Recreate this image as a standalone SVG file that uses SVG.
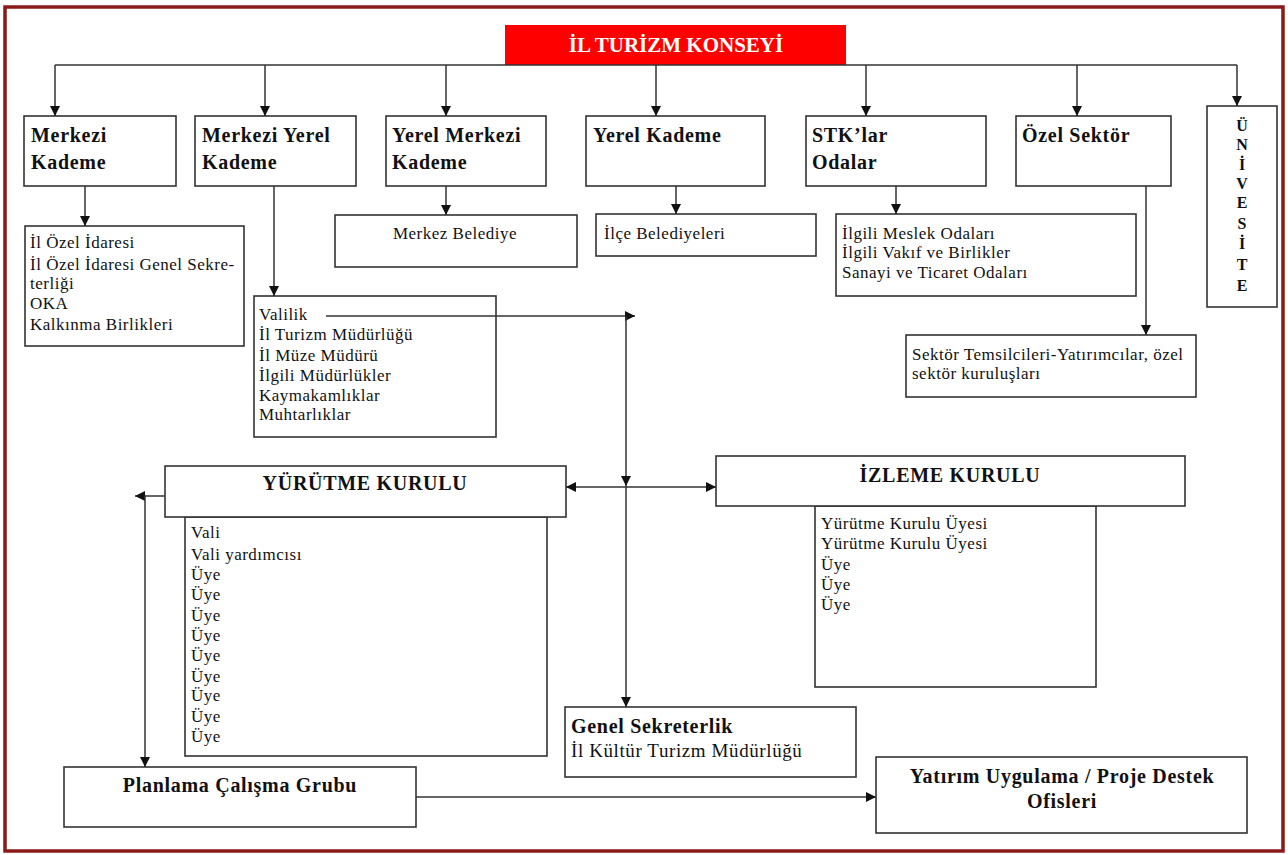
<svg xmlns="http://www.w3.org/2000/svg" width="1288" height="855" viewBox="0 0 1288 855">
<style>
.box{fill:#fff;stroke:#333;stroke-width:1.6}
.t{font-family:"Liberation Serif","Times New Roman",serif;fill:#111}
.b{font-weight:bold;font-size:20px;letter-spacing:0.7px}
.r{font-size:17px;letter-spacing:0.5px}
.c{text-anchor:middle}
.ln{fill:none;stroke:#333;stroke-width:1.5}
</style>
<defs>
<marker id="ah" viewBox="0 0 10 10" refX="10" refY="5" markerWidth="10" markerHeight="10" markerUnits="userSpaceOnUse" orient="auto-start-reverse">
<path d="M0,0 L10,5 L0,10 z" fill="#111"/>
</marker>
</defs>
<rect x="0" y="0" width="1288" height="855" fill="#fff"/>
<rect x="5" y="7" width="1278" height="844" fill="none" stroke="#8b1a1a" stroke-width="3.5"/>

<g id="il-turizm-konseyi">
<rect x="505" y="25" width="341" height="40" fill="#f00"/>
<text class="t c" x="676" y="52" font-size="21" font-weight="bold" style="fill:#fff">İL TURİZM KONSEYİ</text>
</g>

<g id="merkezi-kademe">
<rect class="box" x="24" y="116" width="152" height="70"/>
<text class="t b" x="31" y="142">Merkezi</text>
<text class="t b" x="31" y="169">Kademe</text>
</g>
<g id="merkezi-yerel-kademe">
<rect class="box" x="195" y="116" width="161" height="70"/>
<text class="t b" x="202" y="142">Merkezi Yerel</text>
<text class="t b" x="202" y="169">Kademe</text>
</g>
<g id="yerel-merkezi-kademe">
<rect class="box" x="386" y="116" width="160" height="70"/>
<text class="t b" x="392" y="142">Yerel Merkezi</text>
<text class="t b" x="392" y="169">Kademe</text>
</g>
<g id="yerel-kademe">
<rect class="box" x="586" y="116" width="179" height="70"/>
<text class="t b" x="593" y="142">Yerel Kademe</text>
</g>
<g id="stklar-odalar">
<rect class="box" x="806" y="116" width="180" height="70"/>
<text class="t b" x="812" y="142">STK’lar</text>
<text class="t b" x="812" y="169">Odalar</text>
</g>
<g id="ozel-sektor">
<rect class="box" x="1016" y="116" width="155" height="70"/>
<text class="t b" x="1022" y="142">Özel Sektör</text>
</g>
<g id="universite">
<rect class="box" x="1207" y="106" width="70" height="201"/>
<g class="t c" font-weight="bold" font-size="16">
<text x="1242" y="131">Ü</text>
<text x="1242" y="150">N</text>
<text x="1242" y="170">İ</text>
<text x="1242" y="189">V</text>
<text x="1242" y="208">E</text>
<text x="1242" y="229">S</text>
<text x="1242" y="249">İ</text>
<text x="1242" y="270">T</text>
<text x="1242" y="291">E</text>
</g>
</g>

<g id="il-ozel-idaresi">
<rect class="box" x="25" y="226" width="219" height="120"/>
<g class="t r">
<text x="30" y="248">İl Özel İdaresi</text>
<text x="30" y="270">İl Özel İdaresi Genel Sekre-</text>
<text x="30" y="289">terliği</text>
<text x="30" y="309">OKA</text>
<text x="30" y="330">Kalkınma Birlikleri</text>
</g>
</g>
<g id="merkez-belediye">
<rect class="box" x="335" y="215" width="242" height="52"/>
<text class="t r c" x="455" y="239">Merkez Belediye</text>
</g>
<g id="ilce-belediyeleri">
<rect class="box" x="596" y="214" width="220" height="42"/>
<text class="t r" x="604" y="239">İlçe Belediyeleri</text>
</g>
<g id="ilgili-odalar">
<rect class="box" x="836" y="214" width="300" height="82"/>
<g class="t r">
<text x="842" y="239">İlgili Meslek Odaları</text>
<text x="842" y="258">İlgili Vakıf ve Birlikler</text>
<text x="842" y="278">Sanayi ve Ticaret Odaları</text>
</g>
</g>
<g id="sektor-temsilcileri">
<rect class="box" x="906" y="335" width="290" height="62"/>
<g class="t r">
<text x="912" y="360">Sektör Temsilcileri-Yatırımcılar, özel</text>
<text x="912" y="379">sektör kuruluşları</text>
</g>
</g>
<g id="valilik">
<rect class="box" x="254" y="296" width="242" height="141"/>
<g class="t r">
<text x="259" y="320">Valilik</text>
<text x="259" y="340">İl Turizm Müdürlüğü</text>
<text x="259" y="361">İl Müze Müdürü</text>
<text x="259" y="381">İlgili Müdürlükler</text>
<text x="259" y="401">Kaymakamlıklar</text>
<text x="259" y="420">Muhtarlıklar</text>
</g>
</g>

<g id="yurutme-kurulu">
<rect class="box" x="185" y="517" width="362" height="239"/>
<rect class="box" x="165" y="466" width="401" height="51"/>
<text class="t b c" x="365" y="490">YÜRÜTME KURULU</text>
<g class="t r">
<text x="191" y="538">Vali</text>
<text x="191" y="560">Vali yardımcısı</text>
<text x="191" y="580">Üye</text>
<text x="191" y="600">Üye</text>
<text x="191" y="621">Üye</text>
<text x="191" y="641">Üye</text>
<text x="191" y="661">Üye</text>
<text x="191" y="682">Üye</text>
<text x="191" y="701">Üye</text>
<text x="191" y="722">Üye</text>
<text x="191" y="742">Üye</text>
</g>
</g>
<g id="izleme-kurulu">
<rect class="box" x="815" y="506" width="281" height="181"/>
<rect class="box" x="716" y="456" width="469" height="50"/>
<text class="t b c" x="950" y="482">İZLEME KURULU</text>
<g class="t r">
<text x="821" y="529">Yürütme Kurulu Üyesi</text>
<text x="821" y="549">Yürütme Kurulu Üyesi</text>
<text x="821" y="570">Üye</text>
<text x="821" y="590">Üye</text>
<text x="821" y="610">Üye</text>
</g>
</g>
<g id="genel-sekreterlik">
<rect class="box" x="565" y="707" width="291" height="70"/>
<text class="t b" x="571" y="733">Genel Sekreterlik</text>
<text class="t" x="571" y="757" font-size="19" letter-spacing="0.6">İl Kültür Turizm Müdürlüğü</text>
</g>
<g id="planlama-calisma-grubu">
<rect class="box" x="64" y="767" width="352" height="60"/>
<text class="t b c" x="240" y="792">Planlama Çalışma Grubu</text>
</g>
<g id="yatirim-uygulama">
<rect class="box" x="876" y="757" width="371" height="76"/>
<text class="t b c" x="1062" y="783">Yatırım Uygulama / Proje Destek</text>
<text class="t b c" x="1062" y="808">Ofisleri</text>
</g>

<g id="connectors">
<path class="ln" d="M55,65 H1237"/>
<path class="ln" d="M55,65 V116" marker-end="url(#ah)"/>
<path class="ln" d="M265,65 V116" marker-end="url(#ah)"/>
<path class="ln" d="M446,65 V116" marker-end="url(#ah)"/>
<path class="ln" d="M656,65 V116" marker-end="url(#ah)"/>
<path class="ln" d="M866,65 V116" marker-end="url(#ah)"/>
<path class="ln" d="M1077,65 V116" marker-end="url(#ah)"/>
<path class="ln" d="M1237,65 V106" marker-end="url(#ah)"/>
<path class="ln" d="M85,186 V226" marker-end="url(#ah)"/>
<path class="ln" d="M274,186 V296" marker-end="url(#ah)"/>
<path class="ln" d="M446,186 V215" marker-end="url(#ah)"/>
<path class="ln" d="M676,186 V214" marker-end="url(#ah)"/>
<path class="ln" d="M896,186 V214" marker-end="url(#ah)"/>
<path class="ln" d="M1146,186 V335" marker-end="url(#ah)"/>
<path class="ln" d="M326,316 H635" marker-end="url(#ah)"/>
<path class="ln" d="M626,316 V486" marker-end="url(#ah)"/>
<path class="ln" d="M626,486 V707" marker-end="url(#ah)"/>
<path class="ln" d="M566,487 H716" marker-start="url(#ah)" marker-end="url(#ah)"/>
<path class="ln" d="M165,496 H135" marker-end="url(#ah)"/>
<path class="ln" d="M145,496 V767" marker-end="url(#ah)"/>
<path class="ln" d="M416,797 H876" marker-end="url(#ah)"/>
</g>
</svg>
